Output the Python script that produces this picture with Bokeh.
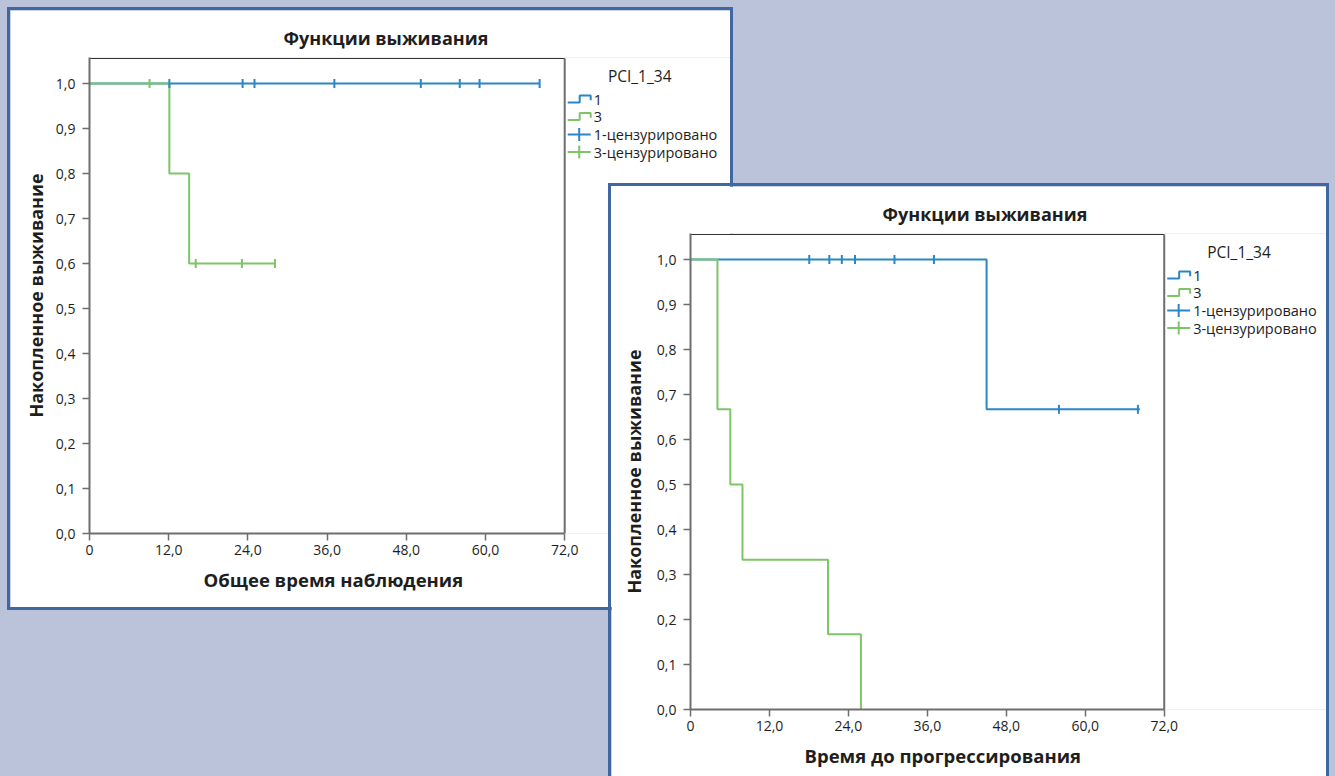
import numpy as np
from bokeh.plotting import figure
from bokeh.models import Range1d, FixedTicker, Title
from bokeh.layouts import column
from bokeh.embed import file_html
from bokeh.resources import INLINE
from bokeh.core.properties import value

# ---------------- data ----------------
x_ticks = [0, 12, 24, 36, 48, 60, 72]
x_tick_labels = ["0", "12,0", "24,0", "36,0", "48,0", "60,0", "72,0"]
y_ticks = [0.0, 0.1, 0.2, 0.3, 0.4, 0.5, 0.6, 0.7, 0.8, 0.9, 1.0]
y_tick_labels = ["0,0", "0,1", "0,2", "0,3", "0,4", "0,5", "0,6", "0,7", "0,8", "0,9", "1,0"]

chart_title = "Функции выживания"
y_axis_label = "Накопленное выживание"
legend_title = "PCI_1_34"
legend_labels = ["1", "3", "1-цензурировано", "3-цензурировано"]

# Panel A: overall survival
a_x_label = "Общее время наблюдения"
a_g1_time = [0.0, 68.2]
a_g1_surv = [1.0, 1.0]
a_g1_cens_time = [12.1, 23.2, 25.0, 37.1, 50.2, 56.1, 59.1, 68.2]
a_g1_cens_surv = [1.0, 1.0, 1.0, 1.0, 1.0, 1.0, 1.0, 1.0]
a_g3_time = [0.0, 12.1, 15.1, 28.2]
a_g3_surv = [1.0, 0.8, 0.6, 0.6]
a_g3_cens_time = [9.1, 16.1, 23.1, 28.1]
a_g3_cens_surv = [1.0, 0.6, 0.6, 0.6]

# Panel B: time to progression
b_x_label = "Время до прогрессирования"
b_g1_time = [0.0, 45.0, 68.3]
b_g1_surv = [1.0, 0.667, 0.667]
b_g1_cens_time = [18.05, 21.1, 23.0, 25.0, 31.0, 37.0, 56.0, 68.0]
b_g1_cens_surv = [1.0, 1.0, 1.0, 1.0, 1.0, 1.0, 0.667, 0.667]
b_g3_time = [0.0, 4.1, 6.05, 7.9, 20.9, 25.9]
b_g3_surv = [1.0, 0.667, 0.5, 0.333, 0.167, 0.0]
b_g3_cens_time = []
b_g3_cens_surv = []

# ---------------- style ----------------
BLUE = "#2B86C8"
GREEN = "#7EC568"
AXIS = "#6E6E6E"
TXT = "#1E1E1E"
PANEL_BORDER = "#3F68A0"
BG = "#BAC3D9"
FONT = "Open Sans"


def build(width, height, extra_w, extra_h, fl, ft, fb, pxx, pxy, x_label,
          title_offset, xlabel_offset, ylabel_standoff, g1, g3, margin, styles):
    # the canvas is sized to the element's border box, drawn from the
    # content origin; extra_w/extra_h are the border widths
    cw = width + extra_w
    ch = height + extra_h
    fb_eff = fb + extra_h
    x_end = (cw - fl) / pxx
    y_end = (ch - ft - fb_eff) / pxy
    y_top = y_end - 1.0 / pxy
    p = figure(width=width, height=height,
               x_range=Range1d(0, x_end), y_range=Range1d(0, y_end),
               output_backend="svg", toolbar_location=None,
               min_border_left=fl, min_border_right=0,
               min_border_top=ft, min_border_bottom=fb_eff,
               margin=margin, styles=styles)
    p.background_fill_color = "white"
    p.border_fill_color = "white"
    p.outline_line_color = None
    p.xgrid.visible = False
    p.ygrid.visible = False

    p.title.text = chart_title
    p.title.align = "left"
    p.title.offset = title_offset
    p.title.text_font = FONT
    p.title.text_font_size = "18px"
    p.title.text_font_style = "bold"
    p.title.text_color = TXT
    p.title.standoff = 15

    for ax in (p.xaxis[0], p.yaxis[0]):
        ax.axis_line_color = AXIS
        ax.axis_line_width = 2
        ax.major_tick_line_color = AXIS
        ax.major_tick_line_width = 1.5
        ax.major_tick_out = 7
        ax.major_tick_in = 0
        ax.minor_tick_line_color = None
        ax.major_label_text_font = FONT
        ax.major_label_text_font_size = "14px"
        ax.major_label_text_color = TXT
        ax.axis_label_text_font = FONT
        ax.axis_label_text_font_size = "18px"
        ax.axis_label_text_font_style = "bold"
        ax.axis_label_text_color = TXT

    p.xaxis.ticker = FixedTicker(ticks=x_ticks)
    p.xaxis.major_label_overrides = dict(zip(x_ticks, x_tick_labels))
    p.xaxis.bounds = (0, 72)
    p.xaxis.major_label_standoff = 4

    xt = Title(text=x_label, align="left", offset=xlabel_offset,
               text_font=FONT, text_font_size="18.5px",
               text_font_style="bold", text_color=TXT, standoff=15)
    p.add_layout(xt, "below")

    p.yaxis.ticker = FixedTicker(ticks=y_ticks)
    p.yaxis.major_label_overrides = dict(zip(y_ticks, y_tick_labels))
    p.yaxis.axis_label = y_axis_label
    p.yaxis.major_label_standoff = 7
    p.yaxis.axis_label_standoff = ylabel_standoff

    # frame: top and right lines of the plot box
    p.segment(x0=[0, 72], y0=[y_top, 0], x1=[72, 72], y1=[y_top, y_top],
              line_color=["#333333", AXIS], line_width=[1.2, 2])

    # curves
    (t1, s1, ct1, cs1), (t3, s3, ct3, cs3) = g1, g3
    p.step(t1, s1, mode="after", line_color=BLUE, line_width=2)
    p.step(t3, s3, mode="after", line_color=GREEN, line_width=2)
    if ct1:
        p.scatter(ct1, cs1, marker="dash", angle=np.pi / 2, size=9,
                  line_color=BLUE, line_width=2)
    if ct3:
        p.scatter(ct3, cs3, marker="dash", angle=np.pi / 2, size=9,
                  line_color=GREEN, line_width=2)

    # legend (drawn to the right of the plot box)
    def lx(dx):
        return 72 + dx / pxx

    def ly(dy):
        return y_top - dy / pxy

    item_dy = [41, 58.5, 76, 93.5]
    p.text(x=[lx(75)], y=[ly(17)], text=[legend_title], text_align="center",
           text_baseline="middle", text_font=value(FONT),
           text_font_size="15.5px", text_color=TXT)
    p.text(x=[lx(29)] * 4, y=[ly(d) for d in item_dy], text=legend_labels,
           text_align="left", text_baseline="middle", text_font=value(FONT),
           text_font_size="14.5px", text_color=TXT)
    cols = [BLUE, GREEN]
    for i in range(2):
        d = item_dy[i]
        p.line([lx(3), lx(15), lx(15), lx(26), lx(26)],
               [ly(d + 3), ly(d + 3), ly(d - 4), ly(d - 4), ly(d + 0.8)],
               line_color=cols[i], line_width=2)
    for i in range(2):
        d = item_dy[i + 2]
        p.segment(x0=[lx(3), lx(14.5)], y0=[ly(d), ly(d - 6.5)],
                  x1=[lx(26), lx(14.5)], y1=[ly(d), ly(d + 6.5)],
                  line_color=cols[i], line_width=2)
    return p


border = "3px solid " + PANEL_BORDER
pa = build(720, 597, 6, 6, 79, 47, 74, 6.6, 450, a_x_label, 194, 114, 5,
           (a_g1_time, a_g1_surv, a_g1_cens_time, a_g1_cens_surv),
           (a_g3_time, a_g3_surv, a_g3_cens_time, a_g3_cens_surv),
           margin=(7, 0, 0, 7),
           styles={"box-sizing": "content-box", "border": border})
pb = build(715, 590, 6, 3, 77, 47, 67, 6.6, 450, b_x_label, 192, 114, 8,
           (b_g1_time, b_g1_surv, b_g1_cens_time, b_g1_cens_surv),
           (b_g3_time, b_g3_surv, b_g3_cens_time, b_g3_cens_surv),
           margin=(-427, 0, 0, 608),
           styles={"box-sizing": "content-box", "border-top": border,
                   "border-left": border, "border-right": border})

root = column(pa, pb, width=1335, height=776, spacing=0,
              styles={"background-color": BG})

open("out.html", "w").write(file_html(root, INLINE))
